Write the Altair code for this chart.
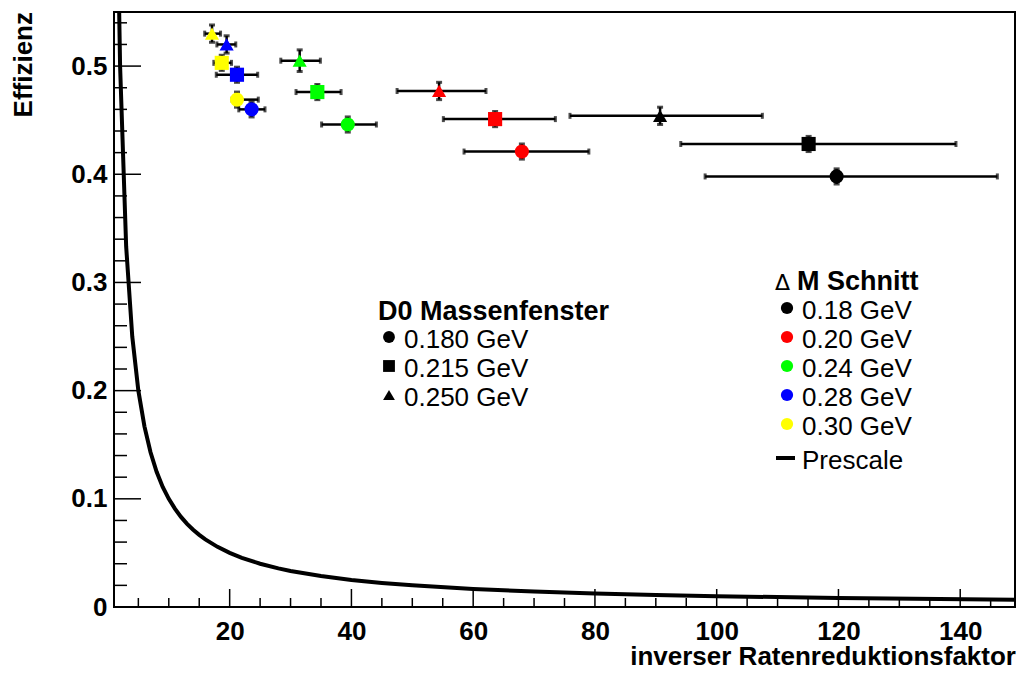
import altair as alt
import pandas as pd

# ---------------- data ----------------
dm_labels = ["0.18 GeV", "0.20 GeV", "0.24 GeV", "0.28 GeV", "0.30 GeV"]
dm_colors = ["#000000", "#ff0000", "#00ff00", "#0000ff", "#ffff00"]
d0_labels = ["0.180 GeV", "0.215 GeV", "0.250 GeV"]
d0_shapes = ["circle", "square", "triangle-up"]

pt_dm = ["0.18 GeV"] * 3 + ["0.20 GeV"] * 3 + ["0.24 GeV"] * 3 + ["0.28 GeV"] * 3 + ["0.30 GeV"] * 3
pt_d0 = d0_labels * 5
pt_x = [119.7, 115.1, 90.7, 68.0, 63.6, 54.4, 39.4, 34.4, 31.5, 23.6, 21.2, 19.5, 21.2, 18.7, 17.1]
pt_y = [0.398, 0.428, 0.454, 0.421, 0.451, 0.477, 0.446, 0.476, 0.505, 0.460, 0.492, 0.520, 0.469, 0.503, 0.530]
pt_xlo = [98.1, 94.1, 75.9, 58.5, 55.1, 47.5, 35.1, 30.9, 28.4, 21.5, 17.8, 17.9, 20.4, 17.4, 15.9]
pt_xhi = [146.1, 139.3, 107.5, 79.0, 73.5, 62.1, 44.1, 38.3, 34.9, 25.8, 24.6, 21.0, 24.7, 20.3, 18.5]
pt_yerr = [0.007, 0.007, 0.008, 0.007, 0.007, 0.008, 0.007, 0.007, 0.010, 0.007, 0.007, 0.008, 0.007, 0.007, 0.008]

prescale_x = [1.5, 2, 3, 4, 5, 6, 7, 8, 9, 10, 11, 12, 13, 14, 15, 16, 18, 20, 22, 25, 28, 30,
              35, 40, 45, 50, 60, 70, 80, 90, 100, 120, 149]
prescale_y = [0.667, 0.5, 0.333, 0.25, 0.2, 0.167, 0.143, 0.125, 0.111, 0.1, 0.0909, 0.0833,
              0.0769, 0.0714, 0.0667, 0.0625, 0.0556, 0.05, 0.0455, 0.04, 0.0357, 0.0333,
              0.0286, 0.025, 0.0222, 0.02, 0.0167, 0.0143, 0.0125, 0.0111, 0.01, 0.0083, 0.0067]

x_major = [20, 40, 60, 80, 100, 120, 140]
x_minor = [5, 10, 15, 25, 30, 35, 45, 50, 55, 65, 70, 75, 85, 90, 95, 105, 110, 115, 125, 130, 135, 145]
y_major = [0, 0.1, 0.2, 0.3, 0.4, 0.5]
y_minor = [0.02, 0.04, 0.06, 0.08, 0.12, 0.14, 0.16, 0.18, 0.22, 0.24, 0.26, 0.28,
           0.32, 0.34, 0.36, 0.38, 0.42, 0.44, 0.46, 0.48, 0.52, 0.54]

x_title = "inverser Ratenreduktionsfaktor"
y_title = "Effizienz"
d0_title = "D0 Massenfenster"
dm_title = "M Schnitt"
prescale_label = "Prescale"

# ---------------- layout ----------------
W, H = 901, 595
FONT = "Liberation Sans"
FS = 26
FSB = 27

xs = alt.Scale(domain=[1, 149], nice=False, zero=False)
ys = alt.Scale(domain=[0, 0.55], nice=False, zero=False)
cscale = alt.Scale(domain=dm_labels, range=dm_colors)
sscale = alt.Scale(domain=d0_labels, range=d0_shapes)

pts = pd.DataFrame({"dm": pt_dm, "d0": pt_d0, "x": pt_x, "y": pt_y,
                    "xlo": pt_xlo, "xhi": pt_xhi, "yerr": pt_yerr})
pts["ylo"] = pts["y"] - pts["yerr"]
pts["yhi"] = pts["y"] + pts["yerr"]

# axes carrier (labels only)
axis_df = pd.DataFrame({"x": [1, 149], "y": [0, 0.55]})
axes = alt.Chart(axis_df).mark_point(opacity=0).encode(
    x=alt.X("x:Q", scale=xs, axis=alt.Axis(values=x_major, ticks=False, domain=False, grid=False,
                                            title=None, labelFont=FONT, labelFontSize=FS,
                                            labelFontWeight="bold", labelColor="black",
                                            labelPadding=11, labelFlush=False)),
    y=alt.Y("y:Q", scale=ys, axis=alt.Axis(values=y_major, ticks=False, domain=False, grid=False,
                                            title=None, labelFont=FONT, labelFontSize=FS,
                                            labelFontWeight="bold", labelColor="black",
                                            labelPadding=7, labelFlush=False,
                                            labelExpr="datum.value == 0 ? '0' : format(datum.value, '.1f')")),
)

def xticks(vals, length):
    return alt.Chart(pd.DataFrame({"v": vals})).mark_rule(color="black", strokeWidth=1.5).encode(
        x=alt.X("v:Q", scale=xs, axis=None), y=alt.value(H), y2=alt.value(H - length))

def yticks(vals, length):
    return alt.Chart(pd.DataFrame({"v": vals})).mark_rule(color="black", strokeWidth=1.5).encode(
        y=alt.Y("v:Q", scale=ys, axis=None), x=alt.value(0), x2=alt.value(length))

# prescale curve
curve = alt.Chart(pd.DataFrame({"x": prescale_x, "y": prescale_y})).mark_line(
    color="black", strokeWidth=4, clip=True).encode(
    x=alt.X("x:Q", scale=xs, axis=None), y=alt.Y("y:Q", scale=ys, axis=None))

base = alt.Chart(pts)
hbar = base.mark_rule(color="black", strokeWidth=2.5).encode(
    x=alt.X("xlo:Q", scale=xs, axis=None), x2="xhi:Q", y=alt.Y("y:Q", scale=ys, axis=None))
vbar = base.mark_rule(color="black", strokeWidth=2.5).encode(
    x=alt.X("x:Q", scale=xs, axis=None), y=alt.Y("ylo:Q", scale=ys, axis=None), y2="yhi:Q")
cap_l = base.mark_tick(orient="vertical", color="black", size=6, thickness=3).encode(
    x=alt.X("xlo:Q", scale=xs, axis=None), y=alt.Y("y:Q", scale=ys, axis=None))
cap_r = base.mark_tick(orient="vertical", color="black", size=6, thickness=3).encode(
    x=alt.X("xhi:Q", scale=xs, axis=None), y=alt.Y("y:Q", scale=ys, axis=None))
cap_t = base.mark_tick(orient="horizontal", color="black", size=6, thickness=3).encode(
    x=alt.X("x:Q", scale=xs, axis=None), y=alt.Y("yhi:Q", scale=ys, axis=None))
cap_b = base.mark_tick(orient="horizontal", color="black", size=6, thickness=3).encode(
    x=alt.X("x:Q", scale=xs, axis=None), y=alt.Y("ylo:Q", scale=ys, axis=None))
markers = base.mark_point(filled=True, opacity=1, size=200).encode(
    x=alt.X("x:Q", scale=xs, axis=None), y=alt.Y("y:Q", scale=ys, axis=None),
    color=alt.Color("dm:N", scale=cscale, legend=None),
    shape=alt.Shape("d0:N", scale=sscale, legend=None))

# ---------------- legends (pixel positions) ----------------
d0_df = pd.DataFrame({"label": d0_labels})
d0_df["py"] = [328 + 29 * i for i in range(len(d0_labels))]
d0_df["my"] = d0_df["py"] - 3
d0_mark = alt.Chart(d0_df).mark_point(filled=True, opacity=1, size=140, color="black").encode(
    x=alt.value(275), y=alt.Y("my:Q", scale=None, axis=None),
    shape=alt.Shape("label:N", scale=sscale, legend=None))
d0_text = alt.Chart(d0_df).mark_text(align="left", baseline="middle", font=FONT, fontSize=FS,
                                     color="black").encode(
    x=alt.value(290), y=alt.Y("py:Q", scale=None, axis=None), text="label:N")
d0_head = alt.Chart(pd.DataFrame({"t": [d0_title]})).mark_text(
    align="left", baseline="middle", font=FONT, fontSize=FSB, fontWeight="bold", color="black").encode(
    x=alt.value(264), y=alt.value(300), text="t:N")

dm_df = pd.DataFrame({"label": dm_labels})
dm_df["py"] = [299 + 29 * i for i in range(len(dm_labels))]
dm_df["my"] = dm_df["py"] - 3
dm_mark = alt.Chart(dm_df).mark_point(filled=True, opacity=1, size=150, shape="circle").encode(
    x=alt.value(673), y=alt.Y("my:Q", scale=None, axis=None),
    color=alt.Color("label:N", scale=cscale, legend=None))
dm_text = alt.Chart(dm_df).mark_text(align="left", baseline="middle", font=FONT, fontSize=FS,
                                     color="black").encode(
    x=alt.value(688), y=alt.Y("py:Q", scale=None, axis=None), text="label:N")
dm_delta = alt.Chart(pd.DataFrame({"t": ["\u0394"]})).mark_text(
    align="left", baseline="middle", font="DejaVu Sans", fontSize=22, color="black").encode(
    x=alt.value(661), y=alt.value(271), text="t:N")
dm_head = alt.Chart(pd.DataFrame({"t": [dm_title]})).mark_text(
    align="left", baseline="middle", font=FONT, fontSize=FSB, fontWeight="bold", color="black").encode(
    x=alt.value(683), y=alt.value(270), text="t:N")
pre_line = alt.Chart(pd.DataFrame({"t": [prescale_label]})).mark_rule(color="black", strokeWidth=4).encode(
    x=alt.value(662), x2=alt.value(681), y=alt.value(446))
pre_text = alt.Chart(pd.DataFrame({"t": [prescale_label]})).mark_text(
    align="left", baseline="middle", font=FONT, fontSize=FS, color="black").encode(
    x=alt.value(688), y=alt.value(449), text="t:N")

# axis titles
xt = alt.Chart(pd.DataFrame({"t": [x_title]})).mark_text(
    align="right", baseline="middle", font=FONT, fontSize=FS, fontWeight="bold", color="black").encode(
    x=alt.value(W + 1), y=alt.value(645), text="t:N")
yt = alt.Chart(pd.DataFrame({"t": [y_title]})).mark_text(
    align="right", baseline="middle", angle=270, font=FONT, fontSize=FS, fontWeight="bold",
    color="black").encode(x=alt.value(-90), y=alt.value(0), text="t:N")

chart = alt.layer(
    axes,
    xticks(x_major, 18), xticks(x_minor, 9), yticks(y_major, 27), yticks(y_minor, 13),
    curve, hbar, vbar, cap_l, cap_r, cap_t, cap_b, markers,
    d0_head, d0_mark, d0_text, dm_delta, dm_head, dm_mark, dm_text, pre_line, pre_text,
    xt, yt,
).resolve_scale(x="independent", y="independent").properties(
    width=W, height=H,
    autosize=alt.AutoSizeParams(type="none"),
    padding={"left": 106, "top": 4, "right": 1, "bottom": 61},
).configure_view(stroke="black", strokeWidth=2)

chart.save("out.html", embed_options={"renderer": "svg", "actions": False})
